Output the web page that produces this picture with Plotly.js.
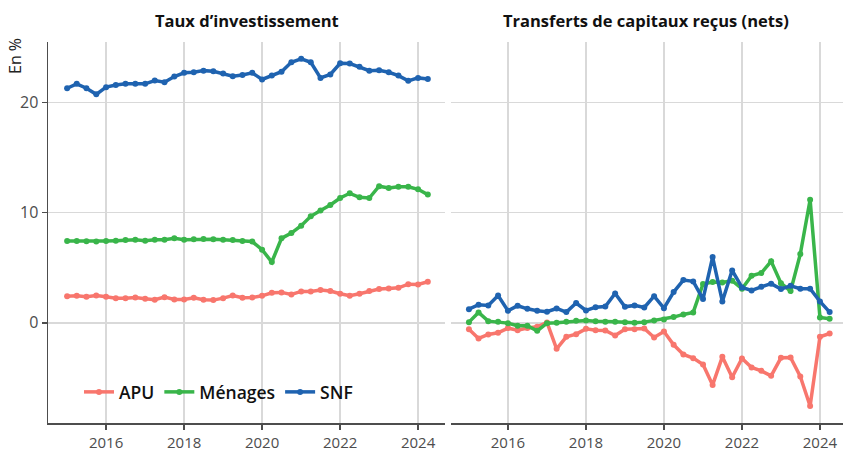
<!DOCTYPE html>
<html>
<head>
<meta charset="utf-8">
<script src="https://cdn.plot.ly/plotly-3.0.1.min.js"></script>
<style>html,body{margin:0;padding:0;background:#fff;}#chart{width:843px;height:451px;}</style>
</head>
<body>
<div id="chart"></div>
<script>
const dates = [
  "2015-01-01","2015-04-01","2015-07-01","2015-10-01",
  "2016-01-01","2016-04-01","2016-07-01","2016-10-01",
  "2017-01-01","2017-04-01","2017-07-01","2017-10-01",
  "2018-01-01","2018-04-01","2018-07-01","2018-10-01",
  "2019-01-01","2019-04-01","2019-07-01","2019-10-01",
  "2020-01-01","2020-04-01","2020-07-01","2020-10-01",
  "2021-01-01","2021-04-01","2021-07-01","2021-10-01",
  "2022-01-01","2022-04-01","2022-07-01","2022-10-01",
  "2023-01-01","2023-04-01","2023-07-01","2023-10-01",
  "2024-01-01","2024-04-01"
];
const seriesNames = ["APU", "Ménages", "SNF"];
const panelTitles = ["Taux d’investissement", "Transferts de capitaux reçus (nets)"];
const yTickVals = [0, 10, 20];
const xTickLabels = ["2016", "2018", "2020", "2022", "2024"];

// Taux d'investissement
const invAPU = [2.42,2.45,2.36,2.48,2.36,2.24,2.24,2.30,2.18,2.09,2.33,2.12,2.12,2.27,2.09,2.06,2.24,2.48,2.27,2.30,
  2.45,2.73,2.76,2.58,2.85,2.85,2.97,2.88,2.64,2.45,2.64,2.88,3.06,3.12,3.18,3.51,3.48,3.73];
const invMen = [7.43,7.43,7.40,7.38,7.43,7.46,7.52,7.55,7.46,7.55,7.55,7.67,7.55,7.58,7.60,7.58,7.55,7.52,7.43,7.38,
  6.64,5.52,7.67,8.15,8.82,9.67,10.2,10.7,11.33,11.76,11.4,11.33,12.4,12.24,12.36,12.36,12.12,11.64];
const invSNF = [21.3,21.7,21.3,20.75,21.4,21.6,21.7,21.7,21.7,22.0,21.85,22.36,22.7,22.75,22.9,22.85,22.64,22.4,22.5,22.7,
  22.1,22.45,22.8,23.66,23.97,23.66,22.24,22.55,23.57,23.54,23.25,22.9,22.94,22.75,22.45,21.97,22.24,22.15];

// Transferts de capitaux reçus (nets)
const trAPU = [-0.58,-1.42,-1.06,-0.91,-0.48,-0.67,-0.48,-0.36,0.03,-2.36,-1.27,-1.03,-0.55,-0.67,-0.70,-1.15,-0.58,-0.58,-0.52,-1.33,
  -0.79,-2.0,-2.88,-3.21,-3.79,-5.64,-3.09,-4.94,-3.24,-4.06,-4.36,-4.82,-3.18,-3.15,-4.88,-7.55,-1.27,-0.97];
const trMen = [0.06,0.94,0.15,0.09,-0.03,-0.27,-0.27,-0.73,-0.03,0.0,0.09,0.18,0.21,0.15,0.09,0.09,0.06,0.0,0.06,0.21,
  0.30,0.52,0.76,0.94,3.52,3.70,3.67,3.82,3.09,4.27,4.52,5.58,3.60,2.88,6.24,11.18,0.48,0.36];
const trSNF = [1.24,1.64,1.58,2.48,1.09,1.55,1.27,1.09,1.0,1.3,0.97,1.79,1.12,1.42,1.48,2.67,1.45,1.58,1.39,2.42,
  1.33,2.79,3.88,3.76,2.15,5.97,1.94,4.76,3.21,2.94,3.27,3.55,3.06,3.36,3.09,3.09,1.94,0.97];

const colors = ["#F8766D", "#39B54A", "#1F63B0"];
const leftData = [invAPU, invMen, invSNF];
const rightData = [trAPU, trMen, trSNF];

const traces = [];
leftData.forEach((v, i) => traces.push({
  x: dates, y: v, type: "scatter", mode: "lines+markers", name: seriesNames[i],
  line: {color: colors[i], width: 3.5}, marker: {color: colors[i], size: 6},
  xaxis: "x", yaxis: "y", legendgroup: seriesNames[i], showlegend: true
}));
rightData.forEach((v, i) => traces.push({
  x: dates, y: v, type: "scatter", mode: "lines+markers", name: seriesNames[i],
  line: {color: colors[i], width: 3.5}, marker: {color: colors[i], size: 6},
  xaxis: "x2", yaxis: "y2", legendgroup: seriesNames[i], showlegend: false
}));

const W = 795; // plot-area width (843 - left margin 48)
const axisGrey = "#4d4d4d";
const gridGrey = "#d9d9d9";
const xCommon = {
  type: "date", tickvals: xTickLabels.map(s => s + "-01-01"), ticktext: xTickLabels,
  showgrid: true, gridcolor: gridGrey, gridwidth: 1.5,
  showline: true, linecolor: axisGrey, linewidth: 1.5,
  ticks: "outside", ticklen: 5, tickcolor: axisGrey, tickwidth: 1.5, ticklabelstandoff: 0,
  tickfont: {family: "Open Sans", size: 15, color: axisGrey}, zeroline: false, fixedrange: true
};
const yRange = [-9.1, 25.5];

const layout = {
  width: 843, height: 451,
  margin: {l: 48, r: 0, t: 42, b: 28},
  paper_bgcolor: "#fff", plot_bgcolor: "#fff",
  font: {family: "Open Sans", color: axisGrey},
  showlegend: true,
  legend: {
    orientation: "h", x: 31/W, xanchor: "left", y: 31/381, yanchor: "middle",
    font: {family: "Open Sans", size: 17.5, color: "#111", weight: 600},
    bgcolor: "rgba(0,0,0,0)", itemwidth: 30, tracegroupgap: 0
  },
  xaxis: Object.assign({}, xCommon, {domain: [0, 397/W], range: ["2014-07-06", "2024-09-09"], anchor: "y"}),
  xaxis2: Object.assign({}, xCommon, {domain: [403/W, 1], range: ["2014-07-17", "2024-08-04"], anchor: "y2"}),
  yaxis: {
    domain: [0, 1], range: yRange, tickvals: yTickVals, showgrid: true, gridcolor: gridGrey, gridwidth: 1.5,
    showline: true, linecolor: axisGrey, linewidth: 1.5, ticks: "outside", ticklen: 5, tickcolor: axisGrey, tickwidth: 1.5,
    tickfont: {family: "Open Sans", size: 16, color: axisGrey}, zeroline: false, anchor: "x", fixedrange: true
  },
  yaxis2: {
    domain: [0, 1], range: yRange, tickvals: yTickVals, showgrid: true, gridcolor: gridGrey, gridwidth: 1.5,
    showline: false, showticklabels: false, ticks: "", zeroline: false, anchor: "x2", fixedrange: true
  },
  annotations: [
    {text: "<b>" + panelTitles[0] + "</b>", xref: "paper", yref: "paper", x: (246.5 - 48)/W, y: 1 + 22/381,
     xanchor: "center", yanchor: "middle", showarrow: false, font: {family: "Open Sans", size: 16.5, color: "#111"}},
    {text: "<b>" + panelTitles[1] + "</b>", xref: "paper", yref: "paper", x: (646 - 48)/W, y: 1 + 22/381,
     xanchor: "center", yanchor: "middle", showarrow: false, font: {family: "Open Sans", size: 16.5, color: "#111"}},
    {text: "En %", xref: "paper", yref: "paper", x: (15 - 48)/W, y: 1 - 14/381, xanchor: "center", yanchor: "middle",
     textangle: -90, showarrow: false, font: {family: "Open Sans", size: 16, color: "#222"}}
  ]
};

Plotly.newPlot("chart", traces, layout, {displayModeBar: false, staticPlot: true});
</script>
</body>
</html>
